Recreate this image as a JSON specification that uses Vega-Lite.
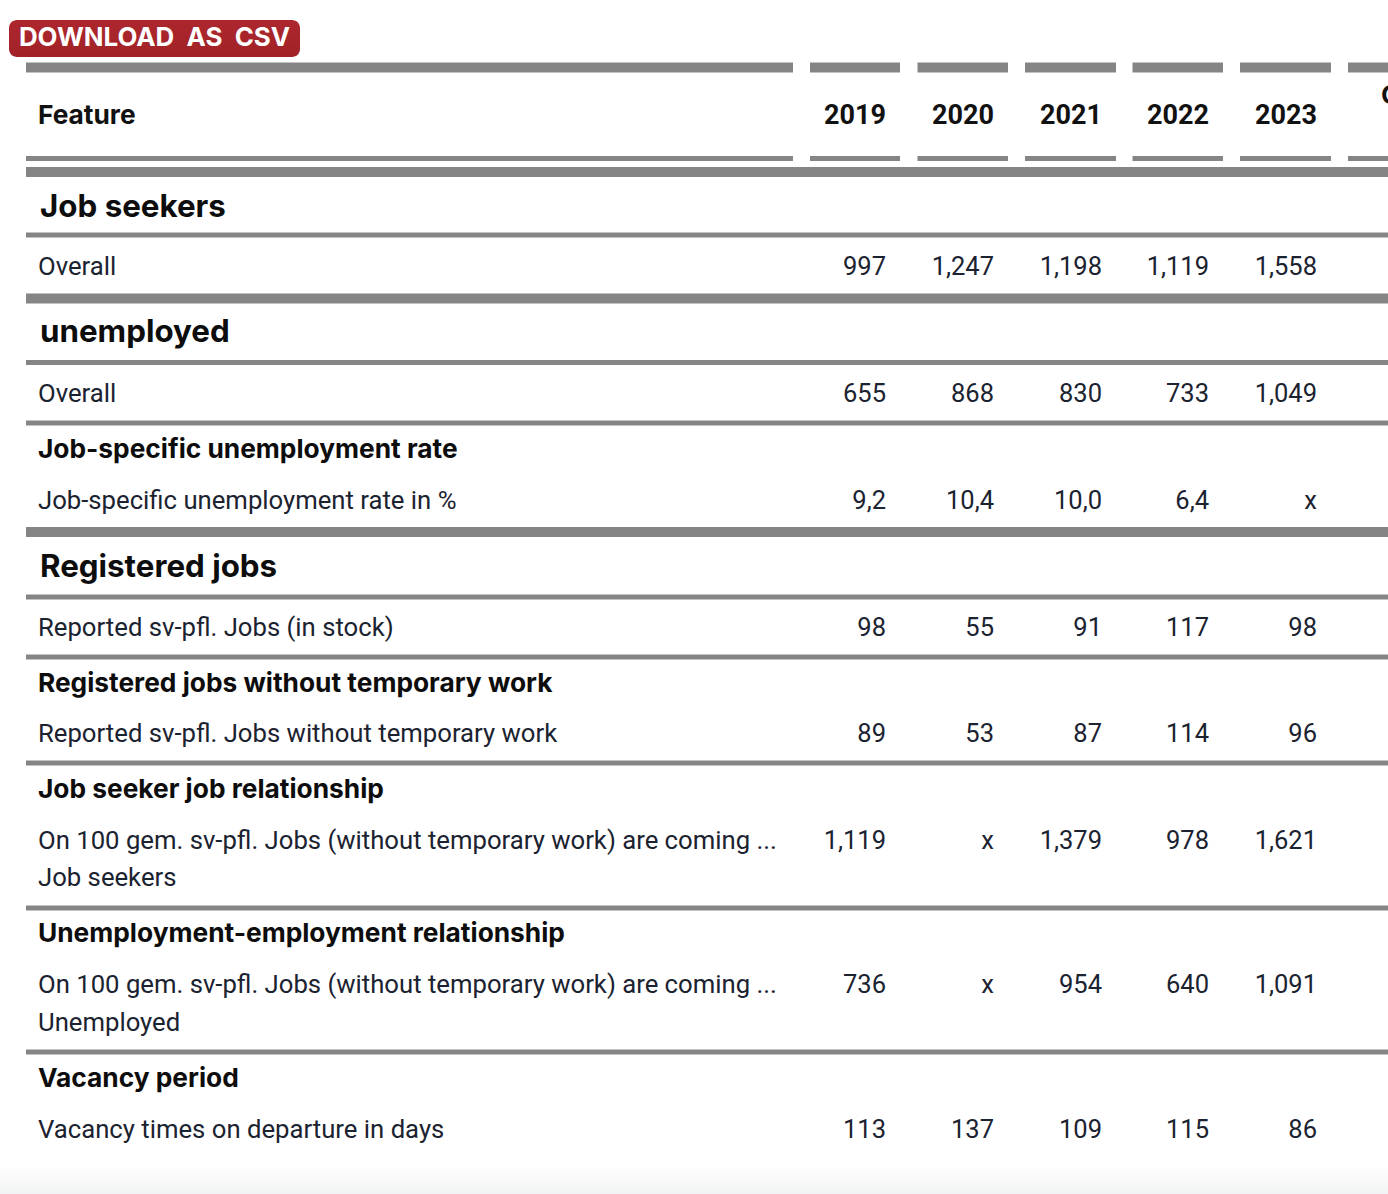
{
  "$schema": "https://vega.github.io/schema/vega-lite/v6.json",
  "width": 1388,
  "height": 1194,
  "autosize": "none",
  "padding": 0,
  "background": "white",
  "config": {"view": {"stroke": null}},
  "datasets": {
    "texts": [
      {"kind": "button", "line": 1, "xs": 4, "text": "DOWNLOAD\u00a0 AS\u00a0 CSV"},
      {"kind": "header", "line": 5, "xs": 3, "text": "Feature"},
      {"kind": "header", "line": 4, "xs": 23, "text": "Change"},
      {"kind": "section", "line": 8, "xs": 3, "text": "Job seekers"},
      {"kind": "section", "line": 12, "xs": 3, "text": "unemployed"},
      {"kind": "section", "line": 19, "xs": 3, "text": "Registered jobs"},
      {"kind": "subheader", "line": 16, "xs": 3, "text": "Job-specific unemployment rate"},
      {"kind": "subheader", "line": 23, "xs": 3, "text": "Registered jobs without temporary work"},
      {"kind": "subheader", "line": 26, "xs": 3, "text": "Job seeker job relationship"},
      {"kind": "subheader", "line": 30, "xs": 3, "text": "Unemployment-employment relationship"},
      {"kind": "subheader", "line": 34, "xs": 3, "text": "Vacancy period"},
      {"kind": "label", "line": 10, "xs": 3, "text": "Overall"},
      {"kind": "label", "line": 14, "xs": 3, "text": "Overall"},
      {"kind": "label", "line": 17, "xs": 3, "text": "Job-specific unemployment rate in %"},
      {"kind": "label", "line": 21, "xs": 3, "text": "Reported sv-pfl. Jobs (in stock)"},
      {"kind": "label", "line": 24, "xs": 3, "text": "Reported sv-pfl. Jobs without temporary work"},
      {"kind": "label", "line": 27, "xs": 3, "text": "On 100 gem. sv-pfl. Jobs (without temporary work) are coming ..."},
      {"kind": "label", "line": 28, "xs": 3, "text": "Job seekers"},
      {"kind": "label", "line": 31, "xs": 3, "text": "On 100 gem. sv-pfl. Jobs (without temporary work) are coming ..."},
      {"kind": "label", "line": 32, "xs": 3, "text": "Unemployed"},
      {"kind": "label", "line": 35, "xs": 3, "text": "Vacancy times on departure in days"}
    ],
    "columns": [
      {"col": "Feature", "lx": 2, "rx": 6},
      {"col": "2019", "lx": 7, "tx": 8, "rx": 9},
      {"col": "2020", "lx": 10, "tx": 11, "rx": 12},
      {"col": "2021", "lx": 13, "tx": 14, "rx": 15},
      {"col": "2022", "lx": 16, "tx": 17, "rx": 18},
      {"col": "2023", "lx": 19, "tx": 20, "rx": 21},
      {"col": "next", "lx": 22, "rx": 25}
    ],
    "borders": [
      {"line": 7, "weight": "heavy"},
      {"line": 9, "weight": "light"},
      {"line": 11, "weight": "heavy"},
      {"line": 13, "weight": "light"},
      {"line": 15, "weight": "light"},
      {"line": 18, "weight": "heavy"},
      {"line": 20, "weight": "light"},
      {"line": 22, "weight": "light"},
      {"line": 25, "weight": "light"},
      {"line": 29, "weight": "light"},
      {"line": 33, "weight": "light"}
    ],
    "values": [
      {"line": 10, "col": "2019", "value": "997"},
      {"line": 10, "col": "2020", "value": "1,247"},
      {"line": 10, "col": "2021", "value": "1,198"},
      {"line": 10, "col": "2022", "value": "1,119"},
      {"line": 10, "col": "2023", "value": "1,558"},
      {"line": 14, "col": "2019", "value": "655"},
      {"line": 14, "col": "2020", "value": "868"},
      {"line": 14, "col": "2021", "value": "830"},
      {"line": 14, "col": "2022", "value": "733"},
      {"line": 14, "col": "2023", "value": "1,049"},
      {"line": 17, "col": "2019", "value": "9,2"},
      {"line": 17, "col": "2020", "value": "10,4"},
      {"line": 17, "col": "2021", "value": "10,0"},
      {"line": 17, "col": "2022", "value": "6,4"},
      {"line": 17, "col": "2023", "value": "x"},
      {"line": 21, "col": "2019", "value": "98"},
      {"line": 21, "col": "2020", "value": "55"},
      {"line": 21, "col": "2021", "value": "91"},
      {"line": 21, "col": "2022", "value": "117"},
      {"line": 21, "col": "2023", "value": "98"},
      {"line": 24, "col": "2019", "value": "89"},
      {"line": 24, "col": "2020", "value": "53"},
      {"line": 24, "col": "2021", "value": "87"},
      {"line": 24, "col": "2022", "value": "114"},
      {"line": 24, "col": "2023", "value": "96"},
      {"line": 27, "col": "2019", "value": "1,119"},
      {"line": 27, "col": "2020", "value": "x"},
      {"line": 27, "col": "2021", "value": "1,379"},
      {"line": 27, "col": "2022", "value": "978"},
      {"line": 27, "col": "2023", "value": "1,621"},
      {"line": 31, "col": "2019", "value": "736"},
      {"line": 31, "col": "2020", "value": "x"},
      {"line": 31, "col": "2021", "value": "954"},
      {"line": 31, "col": "2022", "value": "640"},
      {"line": 31, "col": "2023", "value": "1,091"},
      {"line": 35, "col": "2019", "value": "113"},
      {"line": 35, "col": "2020", "value": "137"},
      {"line": 35, "col": "2021", "value": "109"},
      {"line": 35, "col": "2022", "value": "115"},
      {"line": 35, "col": "2023", "value": "86"}
    ]
  },
  "layer": [
    {
      "data": {"name": "texts"},
      "transform": [{"filter": "datum.kind === 'button'"}],
      "mark": {"type": "rect", "cornerRadius": 8, "color": {"gradient": "linear", "x1": 0, "y1": 0, "x2": 0, "y2": 1, "stops": [{"offset": 0, "color": "#ad272d"}, {"offset": 1, "color": "#a02228"}]}},
      "encoding": {
        "x": {"datum": 1, "type": "quantitative", "axis": null, "scale": {"type": "linear", "zero": false, "nice": false, "domain": [0,1,2,3,4,5,6,7,8,9,10,11,12,13,14,15,16,17,18,19,20,21,22,23,24,25], "range": [0,9,26,38,154.5,300,793,810,886,900,917.5,994,1008,1025,1102,1116,1132.5,1209,1223,1240,1317,1331,1348,1381,1388,1445]}},
        "x2": {"datum": 5},
        "y": {"datum": 0, "type": "quantitative", "axis": null, "scale": {"type": "linear", "zero": false, "nice": false, "domain": [0,1,2,3,4,5,6,7,8,9,10,11,12,13,14,15,16,17,18,19,20,21,22,23,24,25,26,27,28,29,30,31,32,33,34,35,36,37], "range": [20,38,57,67.5,96,116,158.5,172,208,235,267,298.5,333,362.5,394,423,450,501,532,568,597,628,657,684,734,763,790,841,878,908,934,985,1023,1052,1079,1130,1165,1194]}},
        "y2": {"datum": 2}
      }
    },
    {
      "data": {"name": "texts"},
      "transform": [{"filter": "datum.kind === 'button'"}],
      "mark": {"type": "rect", "color": {"gradient": "linear", "x1": 0, "y1": 0, "x2": 0, "y2": 1, "stops": [{"offset": 0, "color": "#ffffff"}, {"offset": 1, "color": "#f2f3f4"}]}},
      "encoding": {
        "x": {"datum": 0, "type": "quantitative"},
        "x2": {"datum": 24},
        "y": {"datum": 36, "type": "quantitative"},
        "y2": {"datum": 37}
      }
    },
    {
      "data": {"name": "texts"},
      "transform": [{"filter": "datum.kind === 'button'"}],
      "mark": {"type": "text", "font": "Inter", "fontWeight": "bold", "fontSize": 25.9, "color": "white", "align": "center", "baseline": "middle"},
      "encoding": {
        "x": {"field": "xs", "type": "quantitative"},
        "y": {"field": "line", "type": "quantitative"},
        "text": {"field": "text"}
      }
    },
    {
      "data": {"name": "columns"},
      "mark": {"type": "rule", "color": "#858585", "strokeWidth": 10, "strokeCap": "butt"},
      "encoding": {
        "x": {"field": "lx", "type": "quantitative"},
        "x2": {"field": "rx"},
        "y": {"datum": 3, "type": "quantitative"}
      }
    },
    {
      "data": {"name": "columns"},
      "mark": {"type": "rule", "color": "#858585", "strokeWidth": 5, "strokeCap": "butt"},
      "encoding": {
        "x": {"field": "lx", "type": "quantitative"},
        "x2": {"field": "rx"},
        "y": {"datum": 6, "type": "quantitative"}
      }
    },
    {
      "data": {"name": "borders"},
      "transform": [{"filter": "datum.weight === 'heavy'"}],
      "mark": {"type": "rule", "color": "#858585", "strokeWidth": 10, "strokeCap": "butt"},
      "encoding": {
        "x": {"datum": 2, "type": "quantitative"},
        "x2": {"datum": 25},
        "y": {"field": "line", "type": "quantitative"}
      }
    },
    {
      "data": {"name": "borders"},
      "transform": [{"filter": "datum.weight === 'light'"}],
      "mark": {"type": "rule", "color": "#858585", "strokeWidth": 5, "strokeCap": "butt"},
      "encoding": {
        "x": {"datum": 2, "type": "quantitative"},
        "x2": {"datum": 25},
        "y": {"field": "line", "type": "quantitative"}
      }
    },
    {
      "data": {"name": "texts"},
      "transform": [{"filter": "datum.kind === 'header'"}],
      "mark": {"type": "text", "font": "Inter", "fontWeight": "bold", "fontSize": 26.3, "color": "#111111", "align": "left", "baseline": "middle"},
      "encoding": {
        "x": {"field": "xs", "type": "quantitative"},
        "y": {"field": "line", "type": "quantitative"},
        "text": {"field": "text"}
      }
    },
    {
      "data": {"name": "columns"},
      "transform": [{"filter": "datum.tx != null"}],
      "mark": {"type": "text", "font": "Roboto", "fontWeight": "bold", "fontSize": 27, "color": "#111111", "align": "right", "baseline": "middle"},
      "encoding": {
        "x": {"field": "tx", "type": "quantitative"},
        "y": {"datum": 5, "type": "quantitative"},
        "text": {"field": "col"}
      }
    },
    {
      "data": {"name": "texts"},
      "transform": [{"filter": "datum.kind === 'section'"}],
      "mark": {"type": "text", "font": "Inter", "fontWeight": "bold", "fontSize": 31.3, "color": "#0d0d0d", "align": "left", "baseline": "middle", "dx": 2},
      "encoding": {
        "x": {"field": "xs", "type": "quantitative"},
        "y": {"field": "line", "type": "quantitative"},
        "text": {"field": "text"}
      }
    },
    {
      "data": {"name": "texts"},
      "transform": [{"filter": "datum.kind === 'subheader'"}],
      "mark": {"type": "text", "font": "Inter", "fontWeight": "bold", "fontSize": 26.3, "color": "#0d0d0d", "align": "left", "baseline": "middle"},
      "encoding": {
        "x": {"field": "xs", "type": "quantitative"},
        "y": {"field": "line", "type": "quantitative"},
        "text": {"field": "text"}
      }
    },
    {
      "data": {"name": "texts"},
      "transform": [{"filter": "datum.kind === 'label'"}],
      "mark": {"type": "text", "font": "Roboto", "fontSize": 25.7, "color": "#1b2230", "align": "left", "baseline": "middle"},
      "encoding": {
        "x": {"field": "xs", "type": "quantitative"},
        "y": {"field": "line", "type": "quantitative"},
        "text": {"field": "text"}
      }
    },
    {
      "data": {"name": "values"},
      "transform": [{"lookup": "col", "from": {"data": {"name": "columns"}, "key": "col", "fields": ["tx"]}}],
      "mark": {"type": "text", "font": "Roboto", "fontSize": 25.5, "color": "#1b2230", "align": "right", "baseline": "middle"},
      "encoding": {
        "x": {"field": "tx", "type": "quantitative"},
        "y": {"field": "line", "type": "quantitative"},
        "text": {"field": "value"}
      }
    }
  ]
}
